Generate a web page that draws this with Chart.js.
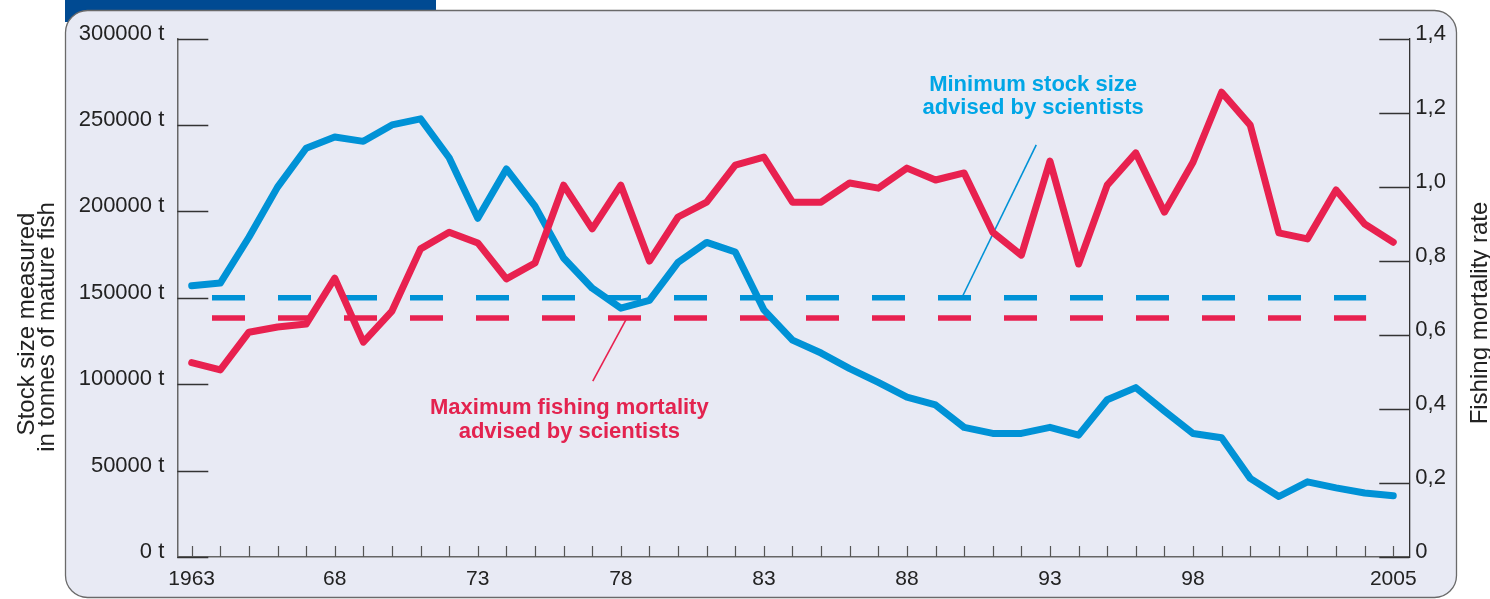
<!DOCTYPE html>
<html>
<head>
<meta charset="utf-8">
<script src="https://cdn.jsdelivr.net/npm/chart.js@4.4.1/dist/chart.umd.min.js"></script>
<style>
  html, body { margin: 0; padding: 0; background: #fff; }
  #wrap { width: 1490px; height: 599px; position: relative; }
</style>
</head>
<body>
<div id="wrap"><canvas id="fish-chart"></canvas></div>
<script>
// data
const years = [1963, 1964, 1965, 1966, 1967, 1968, 1969, 1970, 1971, 1972,
               1973, 1974, 1975, 1976, 1977, 1978, 1979, 1980, 1981, 1982,
               1983, 1984, 1985, 1986, 1987, 1988, 1989, 1990, 1991, 1992,
               1993, 1994, 1995, 1996, 1997, 1998, 1999, 2000, 2001, 2002,
               2003, 2004, 2005];

// tonnes of mature fish
const stockSize = [157000, 158500, 185000, 214000, 236500, 243000, 240500, 250000, 253500, 231000,
                   196000, 224500, 203000, 173000, 155500, 144000, 148500, 170500, 182000, 176500,
                   143000, 125500, 118000, 109000, 101000, 92500, 88000, 75000, 71500, 71500,
                   75000, 70500, 91000, 98000, 84500, 71500, 69000, 45500, 35000, 43500,
                   40000, 37000, 35500];

const fishingMortality = [0.525, 0.505, 0.607, 0.621, 0.629, 0.753, 0.580, 0.664, 0.832, 0.877,
                          0.848, 0.751, 0.794, 1.004, 0.886, 1.004, 0.799, 0.918, 0.958, 1.058,
                          1.080, 0.958, 0.958, 1.010, 0.996, 1.050, 1.018, 1.037, 0.877, 0.815,
                          1.069, 0.791, 1.004, 1.091, 0.931, 1.066, 1.255, 1.166, 0.875, 0.859,
                          0.991, 0.899, 0.850];

const minStockSize = 150000;
const maxFishingMortality = 0.645;
const adviceSpan = [1963.71, 2004.05];

const xLabelYears = [1963, 1968, 1973, 1978, 1983, 1988, 1993, 1998, 2005];
const xLabelTexts = ['1963', '68', '73', '78', '83', '88', '93', '98', '2005'];

const stockTitle = ['Stock size measured', 'in tonnes of mature fish'];
const mortalityTitle = 'Fishing mortality rate';
const stockNote = ['Minimum stock size', 'advised by scientists'];
const mortalityNote = ['Maximum fishing mortality', 'advised by scientists'];

const BLUE = '#0092d6';
const RED = '#e8214f';
const FONT = '"Liberation Sans", Arial, Helvetica, sans-serif';

Chart.defaults.font.family = FONT;
Chart.defaults.color = '#222';

function toPoints(values) {
    return years.map(function(yr, i) { return { x: yr, y: values[i] }; });
}

function roundRect(ctx, x, y, w, h, r) {
    ctx.beginPath();
    ctx.moveTo(x + r, y);
    ctx.lineTo(x + w - r, y);
    ctx.arcTo(x + w, y, x + w, y + r, r);
    ctx.lineTo(x + w, y + h - r);
    ctx.arcTo(x + w, y + h, x + w - r, y + h, r);
    ctx.lineTo(x + r, y + h);
    ctx.arcTo(x, y + h, x, y + h - r, r);
    ctx.lineTo(x, y + r);
    ctx.arcTo(x, y, x + r, y, r);
    ctx.closePath();
}

// panel, tab, inward tick marks, titles and notes
const framePlugin = {
    id: 'frame',
    beforeDraw: function(chart) {
        const ctx = chart.ctx;
        ctx.save();
        ctx.fillStyle = '#ffffff';
        ctx.fillRect(0, 0, chart.width, chart.height);
        ctx.fillStyle = '#004a92';
        ctx.fillRect(65, 0, 371, 22);
        roundRect(ctx, 65.5, 10.5, 1391, 587, 22);
        ctx.fillStyle = '#e8eaf4';
        ctx.fill();
        ctx.lineWidth = 1.3;
        ctx.strokeStyle = '#6a6a6a';
        ctx.stroke();
        ctx.restore();
    },
    beforeDatasetsDraw: function(chart) {
        const ctx = chart.ctx;
        const area = chart.chartArea;
        const x = chart.scales.x, yL = chart.scales.yStock, yR = chart.scales.yRate;
        ctx.save();
        ctx.lineWidth = 1.3;
        ctx.strokeStyle = '#333';
        ctx.beginPath();
        yL.ticks.forEach(function(t) {
            const py = Math.round(yL.getPixelForValue(t.value)) + 0.5;
            ctx.moveTo(area.left, py);
            ctx.lineTo(area.left + 31, py);
        });
        yR.ticks.forEach(function(t) {
            const py = Math.round(yR.getPixelForValue(t.value)) + 0.5;
            ctx.moveTo(area.right - 30, py);
            ctx.lineTo(area.right, py);
        });
        ctx.stroke();
        ctx.strokeStyle = '#555';
        ctx.lineWidth = 1.2;
        ctx.beginPath();
        x.ticks.forEach(function(t) {
            const px = Math.round(x.getPixelForValue(t.value)) + 0.5;
            ctx.moveTo(px, area.bottom);
            ctx.lineTo(px, area.bottom - 11);
        });
        ctx.stroke();
        ctx.restore();
    },
    afterDraw: function(chart) {
        const ctx = chart.ctx;
        const x = chart.scales.x, yL = chart.scales.yStock, yR = chart.scales.yRate;
        ctx.save();
        ctx.fillStyle = '#222';
        ctx.font = '24px ' + FONT;
        ctx.textAlign = 'center';
        ctx.textBaseline = 'alphabetic';
        // left axis title
        ctx.save();
        ctx.translate(34, 324);
        ctx.rotate(-Math.PI / 2);
        ctx.fillText(stockTitle[0], 0, 0);
        ctx.fillText(stockTitle[1], -3, 20);
        ctx.restore();
        // right axis title
        ctx.save();
        ctx.translate(1487, 313);
        ctx.rotate(-Math.PI / 2);
        ctx.fillText(mortalityTitle, 0, 0);
        ctx.restore();

        // notes
        ctx.font = 'bold 22px ' + FONT;
        ctx.fillStyle = '#00a6e6';
        let cx = x.getPixelForValue(1992.41);
        ctx.fillText(stockNote[0], cx, yL.getPixelForValue(269800));
        ctx.fillText(stockNote[1], cx, yL.getPixelForValue(256600));
        ctx.fillStyle = '#e3234f';
        cx = x.getPixelForValue(1976.2);
        ctx.fillText(mortalityNote[0], cx, yR.getPixelForValue(0.385));
        ctx.fillText(mortalityNote[1], cx, yR.getPixelForValue(0.322));
        ctx.restore();
    }
};

const ctx = document.getElementById('fish-chart').getContext('2d');

new Chart(ctx, {
    type: 'line',
    data: {
        datasets: [
            {
                label: 'Fishing mortality rate',
                data: toPoints(fishingMortality),
                yAxisID: 'yRate',
                borderColor: RED,
                borderWidth: 7,
                borderJoinStyle: 'round',
                borderCapStyle: 'round',
                pointRadius: 0,
                tension: 0
            },
            {
                label: 'Stock size',
                data: toPoints(stockSize),
                yAxisID: 'yStock',
                borderColor: BLUE,
                borderWidth: 7,
                borderJoinStyle: 'round',
                borderCapStyle: 'round',
                pointRadius: 0,
                tension: 0
            },
            {
                label: 'Minimum stock size',
                data: [{ x: adviceSpan[0], y: minStockSize }, { x: adviceSpan[1], y: minStockSize }],
                yAxisID: 'yStock',
                borderColor: BLUE,
                borderWidth: 5.5,
                borderDash: [33, 33],
                borderCapStyle: 'butt',
                pointRadius: 0
            },
            {
                label: 'Maximum fishing mortality',
                data: [{ x: adviceSpan[0], y: maxFishingMortality }, { x: adviceSpan[1], y: maxFishingMortality }],
                yAxisID: 'yRate',
                borderColor: RED,
                borderWidth: 5.5,
                borderDash: [33, 33],
                borderCapStyle: 'butt',
                pointRadius: 0
            },
            {
                label: 'stock note pointer',
                data: [{ x: 1989.92, y: minStockSize }, { x: 1992.52, y: 238400 }],
                yAxisID: 'yStock',
                borderColor: BLUE,
                borderWidth: 1.6,
                pointRadius: 0
            },
            {
                label: 'mortality note pointer',
                data: [{ x: 1978.21, y: maxFishingMortality }, { x: 1977.02, y: 0.475 }],
                yAxisID: 'yRate',
                borderColor: RED,
                borderWidth: 1.6,
                pointRadius: 0
            }
        ]
    },
    options: {
        responsive: true,
        maintainAspectRatio: false,
        animation: false,
        events: [],
        layout: { padding: { top: 38.5, left: 0, right: 0, bottom: 0 } },
        plugins: {
            legend: { display: false },
            tooltip: { enabled: false }
        },
        scales: {
            x: {
                type: 'linear',
                min: 1962.497,
                max: 2005.56,
                afterBuildTicks: function(scale) {
                    scale.ticks = years.map(function(v) { return { value: v }; });
                },
                afterFit: function(scale) { scale.height = 42; },
                grid: { display: false, drawTicks: false },
                border: { display: true, color: '#666', width: 1.5 },
                ticks: {
                    autoSkip: false,
                    maxRotation: 0,
                    padding: 10,
                    font: { size: 21 },
                    color: '#222',
                    callback: function(value) {
                        const i = xLabelYears.indexOf(value);
                        return i >= 0 ? xLabelTexts[i] : '';
                    }
                }
            },
            yStock: {
                type: 'linear',
                position: 'left',
                min: 0,
                max: 300000,
                afterFit: function(scale) { scale.width = 177.3; },
                grid: { display: false, drawTicks: false },
                border: { display: true, color: '#666', width: 1.5 },
                ticks: {
                    stepSize: 50000,
                    padding: 13,
                    labelOffset: -5,
                    font: { size: 22 },
                    color: '#222',
                    callback: function(value) { return value + ' t'; }
                }
            },
            yRate: {
                type: 'linear',
                position: 'right',
                min: 0,
                max: 1.4,
                afterFit: function(scale) { scale.width = 80.7; },
                grid: { display: false, drawTicks: false },
                border: { display: true, color: '#333', width: 1.3 },
                ticks: {
                    stepSize: 0.2,
                    padding: 6,
                    labelOffset: -5,
                    font: { size: 22 },
                    color: '#222',
                    callback: function(value) {
                        return value === 0 ? '0' : value.toFixed(1).replace('.', ',');
                    }
                }
            }
        }
    },
    plugins: [framePlugin]
});
</script>
</body>
</html>
